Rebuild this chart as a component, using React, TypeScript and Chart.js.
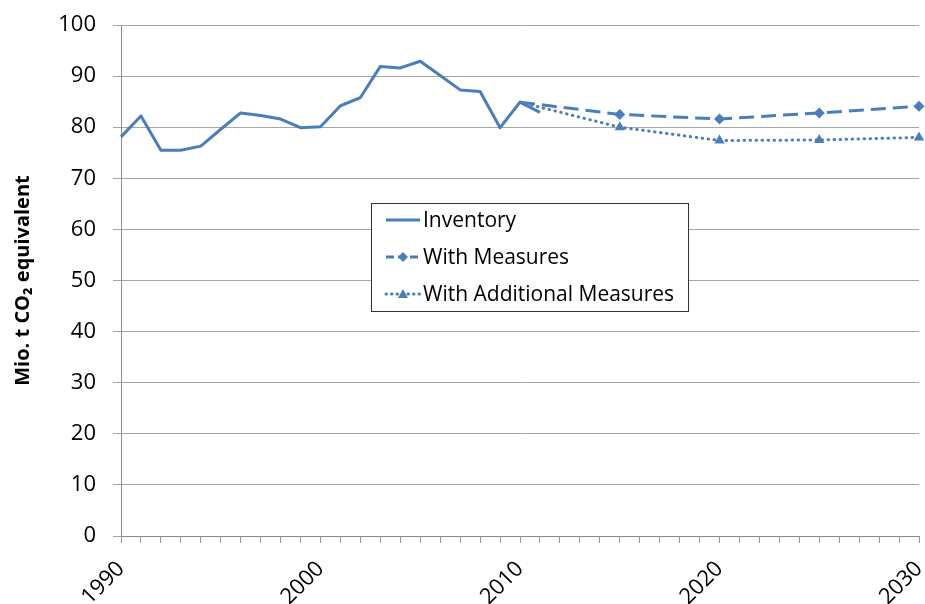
import React, { useEffect, useRef } from "react";
import { Chart, registerables } from "chart.js";

Chart.register(...registerables);

const inventoryYears = [1990, 1991, 1992, 1993, 1994, 1995, 1996, 1997, 1998, 1999, 2000, 2001, 2002, 2003, 2004, 2005, 2006, 2007, 2008, 2009, 2010, 2011];
const inventory = [78.1, 82.2, 75.5, 75.5, 76.3, 79.6, 82.8, 82.3, 81.6, 79.9, 80.1, 84.2, 85.8, 91.9, 91.6, 92.9, 90.1, 87.3, 87.0, 79.9, 84.9, 82.9];
const projectionYears = [2010, 2015, 2020, 2025, 2030];
const withMeasures = [84.9, 82.5, 81.6, 82.8, 84.1];
const withAdditionalMeasures = [84.9, 80.0, 77.4, 77.5, 78.0];
const seriesNames = ["Inventory", "With Measures", "With Additional Measures"];
const yAxisTitle = "Mio. t CO\u2082 equivalent";

const BLUE = "#4a7ebb";
const FONT = "'Open Sans', 'DejaVu Sans', sans-serif";

const legendPlugin = {
  id: "boxLegend",
  afterDraw(chart: any) {
    const ctx = chart.ctx as CanvasRenderingContext2D;
    const bx = 371.5, by = 203.5, bw = 317, bh = 108;
    ctx.save();
    ctx.fillStyle = "#ffffff";
    ctx.fillRect(bx, by, bw, bh);
    ctx.strokeStyle = "#333333";
    ctx.lineWidth = 1;
    ctx.strokeRect(bx, by, bw, bh);
    const rows = [220, 257, 294];
    chart.data.datasets.forEach((ds: any, i: number) => {
      const y = rows[i];
      ctx.save();
      ctx.strokeStyle = ds.borderColor;
      ctx.lineWidth = ds.borderWidth;
      ctx.lineCap = ds.borderCapStyle || "butt";
      ctx.setLineDash(i === 0 ? [] : i === 1 ? [8, 4] : [0.5, 5]);
      ctx.beginPath();
      ctx.moveTo(386, y);
      ctx.lineTo(420, y);
      ctx.stroke();
      ctx.restore();
      if (i > 0) {
        ctx.save();
        ctx.fillStyle = BLUE;
        ctx.beginPath();
        if (i === 1) {
          ctx.moveTo(403, y - 5);
          ctx.lineTo(408, y);
          ctx.lineTo(403, y + 5);
          ctx.lineTo(398, y);
        } else {
          ctx.moveTo(403, y - 5);
          ctx.lineTo(408, y + 4);
          ctx.lineTo(398, y + 4);
        }
        ctx.closePath();
        ctx.fill();
        ctx.restore();
      }
      ctx.fillStyle = "#000000";
      ctx.font = `21px ${FONT}`;
      ctx.textBaseline = "middle";
      ctx.textAlign = "left";
      ctx.fillText(seriesNames[i], 423, y + 1);
    });
    ctx.restore();
  },
};

export default function App() {
  const ref = useRef<HTMLCanvasElement | null>(null);
  useEffect(() => {
    document.body.style.margin = "0";
    const canvas = ref.current;
    if (!canvas) return;
    const chart = new Chart(canvas, {
      type: "line",
      data: {
        datasets: [
          {
            label: seriesNames[0],
            data: inventoryYears.map((x, i) => ({ x, y: inventory[i] })),
            borderColor: BLUE,
            backgroundColor: BLUE,
            borderWidth: 3,
            pointRadius: 0,
            borderJoinStyle: "round",
            clip: false,
          },
          {
            label: seriesNames[1],
            data: projectionYears.map((x, i) => ({ x, y: withMeasures[i] })),
            borderColor: BLUE,
            backgroundColor: BLUE,
            borderWidth: 3,
            borderDash: [15, 7],
            pointStyle: "rectRot",
            pointRadius: projectionYears.map((_, i) => (i === 0 ? 0 : 5.5)),
            pointBorderWidth: 0,
            clip: false,
          },
          {
            label: seriesNames[2],
            data: projectionYears.map((x, i) => ({ x, y: withAdditionalMeasures[i] })),
            borderColor: BLUE,
            backgroundColor: BLUE,
            borderWidth: 3,
            borderDash: [0.5, 5.5],
            borderCapStyle: "round",
            pointStyle: "triangle",
            pointRadius: projectionYears.map((_, i) => (i === 0 ? 0 : 6)),
            pointBorderWidth: 0,
            clip: false,
          },
        ],
      },
      options: {
        animation: false,
        responsive: false,
        maintainAspectRatio: false,
        layout: { padding: { left: 0, right: 4, top: 25, bottom: 0 } },
        plugins: { legend: { display: false }, tooltip: { enabled: false } },
        scales: {
          x: {
            type: "linear",
            min: 1990,
            max: 2030,
            afterFit: (s: any) => {
              s.height = 68;
              s.paddingLeft = 0;
              s.paddingRight = 0;
            },
            ticks: {
              stepSize: 1,
              autoSkip: false,
              maxRotation: 45,
              minRotation: 45,
              color: "#000",
              font: { family: FONT, size: 22 },
              padding: 13,
              callback: (v: any) => (Number(v) % 10 === 0 ? String(v) : ""),
            },
            grid: { drawOnChartArea: false, drawTicks: true, tickLength: 7, color: "#9a9a9a" },
            border: { color: "#8a8a8a", width: 1 },
          },
          y: {
            min: 0,
            max: 100,
            afterFit: (s: any) => {
              s.width = 121;
              s.paddingTop = 0;
              s.paddingBottom = 0;
            },
            ticks: {
              stepSize: 10,
              color: "#000",
              font: { family: FONT, size: 22 },
              padding: 17,
            },
            grid: { color: "#a6a6a6", tickLength: 8, lineWidth: 1 },
            border: { color: "#8a8a8a", width: 1 },
            title: {
              display: true,
              text: yAxisTitle,
              color: "#000",
              font: { family: FONT, size: 20, weight: "bold" },
              padding: { top: 11, bottom: 0 },
            },
          },
        },
      },
      plugins: [legendPlugin],
    } as any);
    return () => chart.destroy();
  }, []);
  return (
    <div style={{ width: 925, height: 604 }}>
      <canvas ref={ref} width={925} height={604} style={{ display: "block" }} />
    </div>
  );
}
